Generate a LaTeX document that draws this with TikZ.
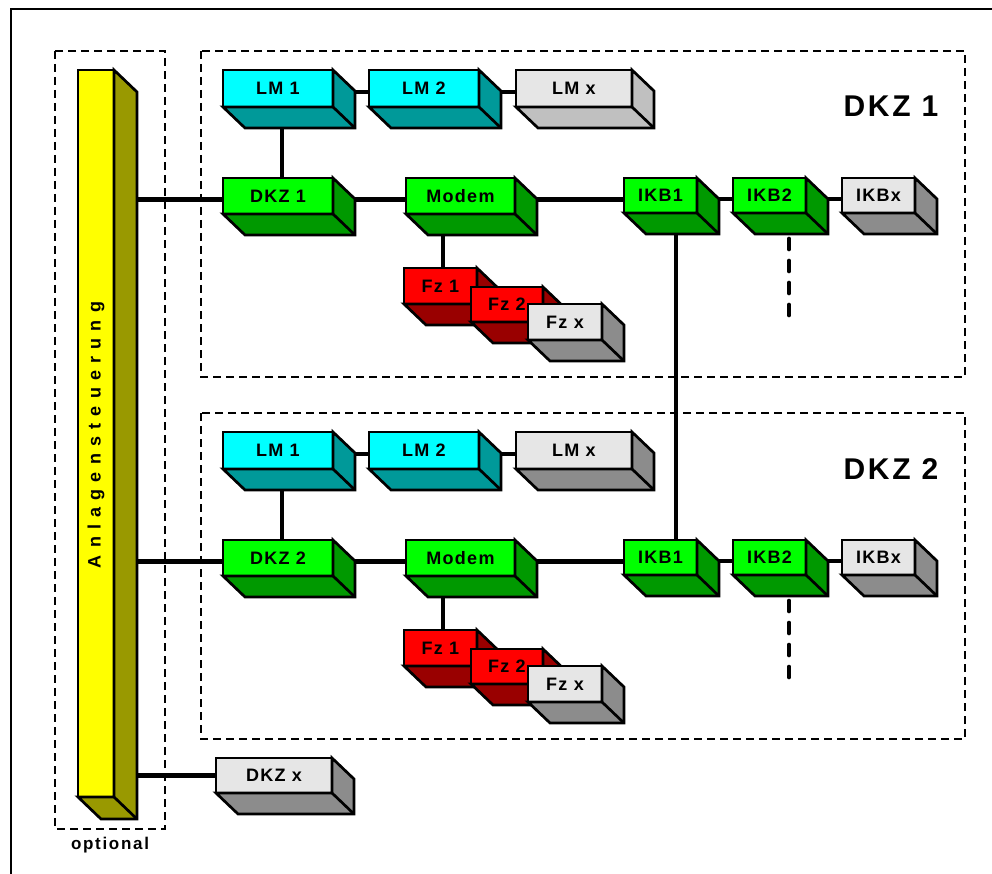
\documentclass[tikz,border=0pt]{standalone}
\usepackage{fontspec}
\setmainfont{Liberation Sans}
\newfontfamily\boxfont{Liberation Sans}[LetterSpace=7]
\newfontfamily\barfont{Liberation Sans}[LetterSpace=40]
\newfontfamily\bigfont{Liberation Sans}[LetterSpace=9]
\newfontfamily\optfont{Liberation Sans}[LetterSpace=10]
\usetikzlibrary{calc}

\definecolor{cyaF}{HTML}{00FFFF}
\definecolor{cyaS}{HTML}{009999}
\definecolor{grnF}{HTML}{00FF00}
\definecolor{grnS}{HTML}{009900}
\definecolor{redF}{HTML}{FF0000}
\definecolor{redS}{HTML}{990000}
\definecolor{gryF}{HTML}{E6E6E6}
\definecolor{gryS}{HTML}{8C8C8C}
\definecolor{lgrS}{HTML}{C0C0C0}
\definecolor{yelF}{HTML}{FFFF00}
\definecolor{yelS}{HTML}{999900}

\pgfdeclarelayer{background}
\pgfsetlayers{background,main}

% depth of the extruded blocks (right and down)
\def\offx{22}
\def\offy{21}

% #1 name, #2 x, #3 y (top-left of front face), #4 width, #5 height,
% #6 front colour, #7 side colour, #8 label
\newcommand\blockbox[8]{%
  \node[face, fill=#6, minimum width=#4pt, minimum height=#5pt, anchor=north west] (#1) at (#2,#3) {#8};
  \filldraw[edge, fill=#7] (#1.north east)
    -- ([shift={(\offx,\offy)}]#1.north east)
    -- ([shift={(\offx,\offy)}]#1.south east)
    -- ([shift={(\offx,\offy)}]#1.south west)
    -- (#1.south west) -- (#1.south east) -- cycle;
  \draw[edge] (#1.south east) -- ([shift={(\offx,\offy)}]#1.south east);
}

% one DKZ area: #1 suffix, #2 vertical offset, #3 number, #4 side colour of LM x
\newcommand\dkzzone[4]{%
\begin{scope}[shift={(0,#2)}]
  \draw[zone] (201,51) rectangle (965,377);
  \node[biglabel, anchor=base] (title#1) at (891,117) {DKZ #3};
  \blockbox{lm1#1}{223}{70}{110}{37}{cyaF}{cyaS}{LM 1}
  \blockbox{lm2#1}{369}{70}{110}{37}{cyaF}{cyaS}{LM 2}
  \blockbox{lmx#1}{516}{70}{116}{37}{gryF}{#4}{LM x}
  \blockbox{dkz#1}{223}{178}{110}{36}{grnF}{grnS}{DKZ #3}
  \blockbox{modem#1}{406}{178}{109}{36}{grnF}{grnS}{Modem}
  \blockbox{ikb1#1}{624}{178}{73}{35}{grnF}{grnS}{IKB1}
  \blockbox{ikb2#1}{733}{178}{73}{35}{grnF}{grnS}{IKB2}
  \blockbox{ikbx#1}{842}{178}{73}{35}{gryF}{gryS}{IKBx}
  \blockbox{fz1#1}{404}{268}{73}{36}{redF}{redS}{Fz 1}
  \blockbox{fz2#1}{471}{287}{72}{35}{redF}{redS}{Fz 2}
  \blockbox{fzx#1}{528}{304}{74}{36}{gryF}{gryS}{Fz x}
  \coordinate (tail#1) at ([shift={(19.5,103)}]ikb2#1.south);
\end{scope}
\begin{pgfonlayer}{background}
  \draw[conn] ([yshift=-3.5pt]dkz#1.west) coordinate (p) -- (p -| bar.east);
  \draw[conn] ([yshift=-3.5pt]lm1#1.east) coordinate (p) -- (p -| lm2#1.west);
  \draw[conn] ([yshift=-3.5pt]lm2#1.east) coordinate (p) -- (p -| lmx#1.west);
  \draw[conn] ([xshift=4pt]lm1#1.south) coordinate (p) -- (p |- dkz#1.north);
  \draw[conn] ([yshift=-3.5pt]dkz#1.east) coordinate (p) -- (p -| modem#1.west);
  \draw[conn] ([yshift=-3.5pt]modem#1.east) coordinate (p) -- (p -| ikb1#1.west);
  \draw[conn] ([yshift=-3.5pt]ikb1#1.east) coordinate (p) -- (p -| ikb2#1.west);
  \draw[conn] ([yshift=-3.5pt]ikb2#1.east) coordinate (p) -- (p -| ikbx#1.west);
  \draw[conn] ([xshift=2.5pt]fz1#1.north) coordinate (p) -- (p |- modem#1.south);
  \draw[conn, open] ([shift={(19.5,26)}]ikb2#1.south) -- (tail#1);
\end{pgfonlayer}
}

\begin{document}
\begin{tikzpicture}[x=1pt, y=-1pt,
  face/.style={draw, line width=2.7pt, inner sep=0pt, outer sep=0pt,
    font={\boxfont\bfseries\fontsize{18}{20}\selectfont}},
  edge/.style={draw, line width=2.7pt},
  conn/.style={draw, line width=4.7pt},
  open/.style={line cap=round, dash pattern=on 10pt off 12pt},
  zone/.style={line width=1.5pt, dash pattern=on 8pt off 5pt},
  frameline/.style={line width=2pt},
  biglabel/.style={inner sep=0pt, font={\bigfont\bfseries\fontsize{30}{34}\selectfont}},
  barlabel/.style={inner sep=0pt, font={\barfont\bfseries\fontsize{18}{20}\selectfont}},
  optlabel/.style={inner sep=0pt, font={\optfont\bfseries\fontsize{17}{20}\selectfont}}]
\useasboundingbox (0,0) rectangle (992,874);

% outer frame (left and top edges)
\draw[frameline] (11,874) -- (11,9) -- (992,9);

% optional plant control
\draw[zone] (55,51) rectangle (165,829);
\node[optlabel, anchor=base] (opt) at (110,849) {optional};
{\def\offx{23}\def\offy{22}
 \blockbox{bar}{78}{70}{36}{727}{yelF}{yelS}{}}
\node[barlabel, rotate=90] (barlbl) at (96,435) {Anlagensteuerung};

% the two DKZ areas
\dkzzone{A}{0}{1}{lgrS}
\dkzzone{B}{362}{2}{gryS}

% further DKZ
\blockbox{dkzX}{216}{758}{116}{35}{gryF}{gryS}{DKZ x}

\begin{pgfonlayer}{background}
  \draw[conn] ([xshift=15.5pt]ikb1A.south) coordinate (p) -- (p |- ikb1B.north);
  \draw[conn] (dkzX.west) coordinate (p) -- (p -| bar.east);
\end{pgfonlayer}
\end{tikzpicture}
\end{document}
